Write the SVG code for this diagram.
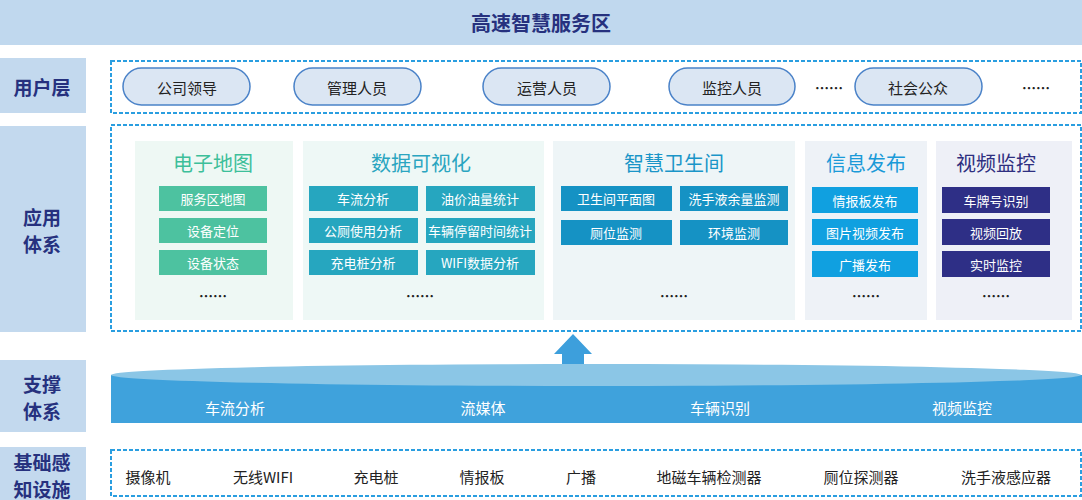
<svg xmlns="http://www.w3.org/2000/svg" width="1082" height="500" viewBox="0 0 1082 500">
<style>
text{font-family:"Noto Sans CJK SC","Liberation Sans",sans-serif;text-anchor:middle;dominant-baseline:central}
.lab{fill:#c3d9ee}
.lt{font-size:19px;font-weight:bold;fill:#26317e}
.dash{fill:none;stroke:#2a9ee0;stroke-width:2;stroke-dasharray:4 2}
.pill{fill:#dbe6f3;stroke:#4a82c8;stroke-width:1.5}
.pt{font-size:15px;fill:#222}
.it{font-size:13px;fill:#fff}
.dots{font-size:14px;fill:#222;font-weight:bold}
.hd{font-size:20px}
.inf{font-size:15px;fill:#222}
.sup{font-size:15px;fill:#fff}
</style>
<rect x="0" y="0" width="1082" height="45" fill="#c0d8ee"/>
<text x="541" y="22" font-size="20" font-weight="bold" fill="#26317e">高速智慧服务区</text>
<g id="labels">
<rect class="lab" x="0" y="58" width="86" height="55"/><text class="lt" x="42" y="86">用户层</text>
<rect class="lab" x="0" y="126" width="86" height="206"/><text class="lt" x="42" y="216">应用</text><text class="lt" x="42" y="243">体系</text>
<rect class="lab" x="0" y="360" width="86" height="72"/><text class="lt" x="42" y="383">支撑</text><text class="lt" x="42" y="410">体系</text>
<rect class="lab" x="0" y="447" width="86" height="53"/><text class="lt" x="42" y="461">基础感</text><text class="lt" x="42" y="488">知设施</text>
</g>
<g id="users">
<rect class="dash" x="111" y="61" width="970" height="52"/>
<rect class="pill" x="123" y="68" width="127" height="37" rx="18.5"/><text class="pt" x="187" y="87">公司领导</text>
<rect class="pill" x="294" y="68" width="127" height="37" rx="18.5"/><text class="pt" x="357" y="87">管理人员</text>
<rect class="pill" x="483" y="68" width="127" height="37" rx="18.5"/><text class="pt" x="547" y="87">运营人员</text>
<rect class="pill" x="669" y="68" width="126" height="37" rx="18.5"/><text class="pt" x="732" y="87">监控人员</text>
<text class="dots" x="829" y="87">……</text>
<rect class="pill" x="855" y="68" width="127" height="37" rx="18.5"/><text class="pt" x="918" y="87">社会公众</text>
<text class="dots" x="1036" y="87">……</text>
</g>
<g id="apps">
<rect class="dash" x="111" y="125" width="970" height="206"/>
<g id="map">
<rect x="135" y="141" width="158" height="179" fill="#eef8f4"/>
<text class="hd" x="213" y="162" fill="#3dbf9a">电子地图</text>
<g fill="#4dc2a0"><rect x="159" y="186" width="108" height="25"/><rect x="159" y="218" width="108" height="25"/><rect x="159" y="250" width="108" height="25"/></g>
<text class="it" x="213" y="198">服务区地图</text><text class="it" x="213" y="230">设备定位</text><text class="it" x="213" y="262">设备状态</text>
<text class="dots" x="213" y="295">……</text>
</g>
<g id="vis">
<rect x="303" y="141" width="241" height="179" fill="#eef8f6"/>
<text class="hd" x="421" y="162" fill="#2aa5c0">数据可视化</text>
<g fill="#26a6bf"><rect x="309" y="186" width="109" height="25"/><rect x="426" y="186" width="109" height="25"/><rect x="309" y="218" width="109" height="25"/><rect x="426" y="218" width="109" height="25"/><rect x="309" y="250" width="109" height="25"/><rect x="426" y="250" width="109" height="25"/></g>
<text class="it" x="363" y="198">车流分析</text><text class="it" x="480" y="198">油价油量统计</text>
<text class="it" x="363" y="230">公厕使用分析</text><text class="it" x="480" y="230">车辆停留时间统计</text>
<text class="it" x="363" y="262">充电桩分析</text><text class="it" x="480" y="262">WIFI数据分析</text>
<text class="dots" x="420" y="295">……</text>
</g>
<g id="toilet">
<rect x="553" y="141" width="242" height="179" fill="#eef5f7"/>
<text class="hd" x="674" y="162" fill="#1a95c8">智慧卫生间</text>
<g fill="#1592c4"><rect x="561" y="186" width="111" height="25"/><rect x="680" y="186" width="108" height="25"/><rect x="561" y="220" width="111" height="25"/><rect x="680" y="220" width="108" height="25"/></g>
<text class="it" x="616" y="198">卫生间平面图</text><text class="it" x="734" y="198">洗手液余量监测</text>
<text class="it" x="616" y="232">厕位监测</text><text class="it" x="734" y="232">环境监测</text>
<text class="dots" x="674" y="295">……</text>
</g>
<g id="info">
<rect x="805" y="141" width="122" height="179" fill="#eef2f7"/>
<text class="hd" x="866" y="162" fill="#1a9ad8">信息发布</text>
<g fill="#10a0e0"><rect x="812" y="187" width="106" height="26"/><rect x="812" y="219" width="106" height="26"/><rect x="812" y="251" width="106" height="26"/></g>
<text class="it" x="865" y="200">情报板发布</text><text class="it" x="865" y="232">图片视频发布</text><text class="it" x="865" y="264">广播发布</text>
<text class="dots" x="866" y="295">……</text>
</g>
<g id="video">
<rect x="936" y="141" width="136" height="179" fill="#eef0f7"/>
<text class="hd" x="996" y="162" fill="#2e2f80">视频监控</text>
<g fill="#2e2f86"><rect x="942" y="187" width="108" height="26"/><rect x="942" y="219" width="108" height="26"/><rect x="942" y="251" width="108" height="26"/></g>
<text class="it" x="996" y="200">车牌号识别</text><text class="it" x="996" y="232">视频回放</text><text class="it" x="996" y="264">实时监控</text>
<text class="dots" x="996" y="295">……</text>
</g>
</g>
<g id="connectors">
<polygon points="573,334 592,354 584,354 584,366 562,366 562,354 554,354" fill="#3d9fdc"/>
</g>
<g id="support">
<rect x="111" y="375" width="971" height="48" fill="#3fa2dc"/>
<ellipse cx="596" cy="375" rx="485" ry="11" fill="#8bc6e6"/>
<text class="sup" x="235" y="407">车流分析</text><text class="sup" x="483" y="407">流媒体</text><text class="sup" x="720" y="407">车辆识别</text><text class="sup" x="962" y="407">视频监控</text>
</g>
<g id="infra">
<rect class="dash" x="111" y="450" width="970" height="46"/>
<text class="inf" x="148" y="476">摄像机</text><text class="inf" x="263" y="476">无线WIFI</text><text class="inf" x="376" y="476">充电桩</text><text class="inf" x="482" y="476">情报板</text><text class="inf" x="581" y="476">广播</text><text class="inf" x="709" y="476">地磁车辆检测器</text><text class="inf" x="861" y="476">厕位探测器</text><text class="inf" x="1006" y="476">洗手液感应器</text>
</g>
</svg>
